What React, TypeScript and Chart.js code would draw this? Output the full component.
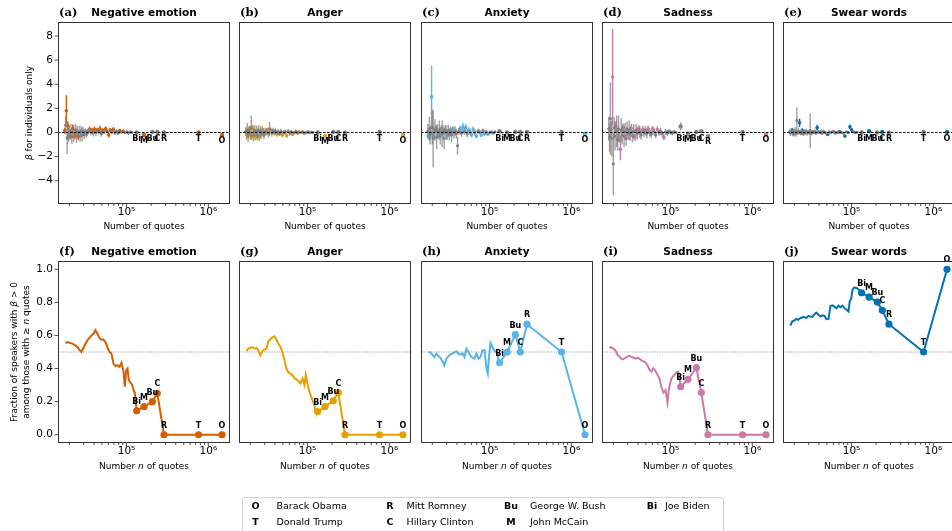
import React, { useEffect, useRef } from 'react';
import { Chart, registerables } from 'chart.js';
Chart.register(...registerables);

// ---------------- data ----------------
const topTitles = ['Negative emotion', 'Anger', 'Anxiety', 'Sadness', 'Swear words'];
const topLetters = ['(a)', '(b)', '(c)', '(d)', '(e)'];
const bottomLetters = ['(f)', '(g)', '(h)', '(i)', '(j)'];
const seriesColors = ['#d55e00', '#e69f00', '#56b4e9', '#cc79a7', '#0072b2'];

const politicianCodes = ['Bi', 'M', 'Bu', 'C', 'R', 'T', 'O'];
const politicianQuotes = [133000, 164000, 207000, 238000, 287000, 760000, 1470000];

const legendCodes = ['O', 'T', 'R', 'C', 'Bu', 'M', 'Bi'];
const legendNames = ['Barack Obama', 'Donald Trump', 'Mitt Romney', 'Hillary Clinton', 'George W. Bush', 'John McCain', 'Joe Biden'];

const xTickValues = [1e5, 1e6];
const xTickLabels = ['10⁵', '10⁶'];
const xMinorTicks = [2e4, 3e4, 4e4, 5e4, 6e4, 7e4, 8e4, 9e4, 2e5, 3e5, 4e5, 5e5, 6e5, 7e5, 8e5, 9e5];
const topYTickValues = [-4, -2, 0, 2, 4, 6, 8];
const topYTickLabels = ['−4', '−2', '0', '2', '4', '6', '8'];
const bottomYTickValues = [0, 0.2, 0.4, 0.6, 0.8, 1.0];
const bottomYTickLabels = ['0.0', '0.2', '0.4', '0.6', '0.8', '1.0'];

// top row: per-speaker regression coefficients
const speakerQuotes = [17600, 18000, 18400, 18800, 19200, 19600, 20000, 20500, 21000, 21500, 22000, 22600, 23200, 23800, 24400, 25000, 25700, 26400, 27100, 27900, 28700, 29500, 30400, 31300, 32300, 33300, 34400, 35500, 36700, 38000, 39300, 40700, 42200, 43800, 45500, 47300, 49200, 51200, 53300, 55600, 58000, 60500, 63200, 66000, 69000, 72200, 75600, 79200, 83000, 87000, 91300, 95800, 100600, 105700, 111000, 116600];

const betaNeg = [0.15, 0.6, 1.8, -0.45, 0.55, -0.2, 0.1, -0.3, 0.15, -0.35, 0.3, -0.1, -0.3, 0.2, -0.25, 0.1, -0.35, 0.05, -0.3, 0.15, -0.2, 0.1, -0.15, 0.05, -0.1, 0.0, 0.15, 0.25, 0.05, 0.2, -0.05, 0.25, 0.0, 0.2, 0.1, 0.3, -0.1, 0.15, 0.05, 0.3, 0.1, -0.2, 0.2, 0.05, 0.25, 0.0, 0.1, -0.05, 0.15, 0.05, 0.1, 0.0, 0.05, -0.05, 0.05, 0.02];
const errNeg = [0.25, 0.75, 1.3, 1.35, 0.35, 0.6, 0.5, 0.3, 0.55, 0.6, 0.35, 0.7, 0.25, 0.5, 0.6, 0.45, 0.3, 0.5, 0.45, 0.4, 0.55, 0.35, 0.4, 0.3, 0.35, 0.3, 0.25, 0.25, 0.3, 0.2, 0.3, 0.25, 0.3, 0.2, 0.25, 0.25, 0.25, 0.2, 0.2, 0.2, 0.2, 0.2, 0.15, 0.2, 0.2, 0.2, 0.15, 0.15, 0.15, 0.15, 0.12, 0.12, 0.12, 0.1, 0.1, 0.08];
const sigNeg = [0, 2, 4, 7, 10, 12, 16, 27, 29, 31, 33, 35, 37, 39, 41, 42, 44, 48, 50];

const betaAnger = [0.1, -0.15, 0.2, -0.3, 0.1, 0.25, -0.1, 0.4, -0.3, 0.3, -0.2, 0.15, -0.35, 0.05, -0.25, 0.2, -0.4, 0.1, -0.15, 0.25, 0.0, -0.2, 0.1, 0.05, 0.2, -0.1, 0.3, 0.2, -0.05, 0.15, 0.0, 0.1, -0.15, 0.05, -0.1, 0.1, -0.2, 0.0, 0.05, -0.25, 0.1, -0.05, 0.05, -0.15, 0.0, 0.1, -0.05, 0.05, 0.0, 0.05, -0.05, 0.0, 0.05, -0.02, 0.03, 0.0];
const errAnger = [0.35, 0.45, 0.6, 0.5, 0.4, 0.3, 0.5, 1.0, 0.3, 0.35, 0.55, 0.45, 0.3, 0.5, 0.4, 0.4, 0.3, 0.45, 0.4, 0.3, 0.4, 0.35, 0.3, 0.3, 0.2, 0.3, 0.6, 0.2, 0.3, 0.25, 0.25, 0.25, 0.2, 0.25, 0.2, 0.2, 0.2, 0.2, 0.2, 0.2, 0.15, 0.2, 0.15, 0.15, 0.15, 0.15, 0.15, 0.15, 0.12, 0.12, 0.12, 0.1, 0.1, 0.1, 0.1, 0.08];
const sigAnger = [1, 5, 8, 9, 12, 16, 19, 24, 27, 32, 36, 39, 43, 47];

const betaAnxiety = [0.1, -0.3, 0.3, -0.2, 0.0, 2.95, 0.4, -0.5, -0.3, 0.2, 0.3, -0.4, 0.1, -0.2, 0.2, -0.3, 0.3, -0.1, 0.1, -0.5, 0.2, 0.0, -0.3, 0.15, -0.15, 0.1, -0.2, 0.2, 0.0, 0.1, -0.1, -1.1, 0.1, 0.3, -0.05, 0.45, 0.1, 0.4, -0.1, 0.2, 0.05, -0.2, 0.25, 0.0, -0.3, 0.1, 0.05, -0.2, 0.15, -0.1, 0.05, -0.15, 0.0, 0.05, -0.05, 0.05];
const errAnxiety = [0.6, 0.3, 1.0, 0.8, 0.5, 2.6, 1.4, 2.4, 0.25, 0.9, 0.3, 1.0, 0.6, 0.3, 0.8, 0.7, 0.3, 1.1, 0.5, 0.9, 0.4, 0.6, 0.3, 0.5, 0.5, 0.4, 0.6, 0.3, 0.5, 0.4, 0.4, 0.75, 0.3, 0.25, 0.3, 0.35, 0.3, 0.3, 0.3, 0.25, 0.25, 0.2, 0.25, 0.25, 0.2, 0.2, 0.2, 0.2, 0.15, 0.2, 0.15, 0.15, 0.15, 0.12, 0.12, 0.1];
const sigAnxiety = [1, 5, 8, 10, 13, 16, 22, 27, 33, 35, 37, 39, 41, 42, 44, 47, 49, 51];

const betaSadness = [0.3, -0.4, 1.15, 0.2, -0.5, 4.6, -2.6, 0.4, -0.3, 0.5, 0.1, -0.6, 0.3, -0.4, -1.4, 0.2, -0.2, 0.4, -0.3, 0.1, -0.5, 0.3, -0.2, 0.2, -0.1, 0.35, -0.3, 0.1, -0.4, 0.2, -0.1, 0.3, 0.05, -0.2, 0.25, 0.0, 0.15, -0.1, 0.3, 0.0, -0.15, 0.3, 0.05, -0.2, 0.25, 0.0, 0.1, -0.1, -0.4, 0.05, -0.05, 0.1, 0.0, -0.05, 0.05, 0.0];
const errSadness = [1.0, 1.2, 3.0, 0.7, 1.5, 4.0, 2.6, 0.9, 1.2, 0.4, 1.3, 0.9, 1.1, 0.4, 0.9, 1.0, 0.8, 0.35, 0.9, 0.7, 0.6, 0.6, 0.4, 0.8, 0.6, 0.35, 0.5, 0.6, 0.3, 0.5, 0.5, 0.3, 0.5, 0.4, 0.3, 0.4, 0.4, 0.4, 0.25, 0.35, 0.35, 0.25, 0.3, 0.3, 0.25, 0.3, 0.3, 0.25, 0.25, 0.25, 0.25, 0.2, 0.2, 0.2, 0.15, 0.15];
const sigSadness = [3, 5, 9, 13, 14, 17, 22, 25, 28, 31, 34, 38, 41, 44, 48];

const betaSwear = [0.05, -0.05, 0.1, 0.2, 0.0, -0.1, 0.05, 0.1, -0.05, 1.0, 0.0, 0.1, 0.8, -0.05, 0.05, 0.15, -0.1, 0.05, 0.0, 0.1, -0.05, 0.05, 0.0, 0.15, -0.05, 0.05, 0.0, 0.1, -0.05, 0.4, 0.05, 0.0, 0.05, -0.05, 0.1, 0.0, -0.05, -0.17, 0.05, 0.0, 0.05, 0.1, -0.05, 0.0, 0.05, 0.05, 0.0, -0.05, -0.3, 0.05, 0.0, 0.47, 0.2, 0.05, 0.0, 0.02];
const errSwear = [0.2, 0.25, 0.2, 0.2, 0.3, 0.25, 0.2, 0.35, 0.3, 1.1, 0.2, 0.25, 0.35, 0.2, 0.25, 0.2, 0.2, 0.2, 0.25, 0.2, 0.2, 0.15, 0.2, 1.45, 0.2, 0.15, 0.15, 0.15, 0.15, 0.25, 0.15, 0.15, 0.12, 0.15, 0.12, 0.12, 0.12, 0.12, 0.12, 0.1, 0.1, 0.1, 0.1, 0.1, 0.1, 0.1, 0.1, 0.1, 0.12, 0.1, 0.1, 0.2, 0.15, 0.1, 0.08, 0.08];
const sigSwear = [3, 12, 15, 29, 37, 45, 48, 51, 52];

// named politicians (order: Bi, M, Bu, C, R, T, O)
const namedBetaNeg = [0.0, -0.2, 0.05, 0.05, 0.0, 0.0, -0.2];
const namedErrNeg = [0.08, 0.06, 0.05, 0.05, 0.05, 0.04, 0.03];
const namedSigNeg = [0, 1, 0, 0, 0, 1, 1];
const namedBetaAnger = [0.0, -0.3, 0.05, 0.05, 0.0, 0.05, -0.2];
const namedErrAnger = [0.08, 0.06, 0.05, 0.05, 0.05, 0.04, 0.03];
const namedSigAnger = [0, 1, 0, 0, 0, 0, 1];
const namedBetaAnxiety = [0.1, 0.0, 0.05, 0.05, 0.05, 0.05, -0.1];
const namedErrAnxiety = [0.1, 0.08, 0.06, 0.06, 0.06, 0.05, 0.04];
const namedSigAnxiety = [0, 0, 0, 0, 0, 0, 1];
const namedBetaSadness = [0.5, -0.1, 0.05, 0.1, -0.3, 0.05, -0.15];
const namedErrSadness = [0.35, 0.1, 0.08, 0.08, 0.1, 0.06, 0.04];
const namedSigSadness = [0, 0, 0, 0, 0, 0, 1];
const namedBetaSwear = [0.0, 0.1, 0.0, 0.05, 0.0, 0.05, 0.05];
const namedErrSwear = [0.06, 0.05, 0.05, 0.05, 0.05, 0.04, 0.03];
const namedSigSwear = [0, 1, 0, 1, 0, 0, 1];

// bottom row: fraction of speakers with beta > 0 among those with >= n quotes
const thresholdQuotes = [17900, 18900, 20000, 21200, 22400, 23700, 25100, 26500, 28100, 29700, 31500, 33300, 35200, 37200, 39400, 41700, 44100, 46700, 49400, 52300, 55300, 58500, 61900, 65500, 69300, 73300, 77600, 82100, 86900, 91900, 95300, 99000, 102800, 106700, 110800, 117200, 124100, 126500];
const fracNeg = [0.554, 0.56, 0.556, 0.552, 0.548, 0.54, 0.53, 0.515, 0.50, 0.524, 0.55, 0.57, 0.585, 0.60, 0.61, 0.632, 0.61, 0.585, 0.574, 0.575, 0.56, 0.53, 0.50, 0.49, 0.43, 0.415, 0.42, 0.41, 0.435, 0.38, 0.29, 0.39, 0.40, 0.33, 0.32, 0.30, 0.26, 0.25];
const namedFracNeg = [0.145, 0.17, 0.20, 0.25, 0, 0, 0];
const fracAnger = [0.505, 0.52, 0.525, 0.53, 0.52, 0.525, 0.51, 0.48, 0.505, 0.515, 0.52, 0.565, 0.578, 0.588, 0.595, 0.575, 0.55, 0.53, 0.50, 0.45, 0.40, 0.375, 0.37, 0.36, 0.34, 0.335, 0.325, 0.31, 0.34, 0.30, 0.36, 0.32, 0.28, 0.255, 0.23, 0.20, 0.16, 0.145];
const namedFracAnger = [0.14, 0.17, 0.205, 0.255, 0, 0, 0];
const fracAnxiety = [0.50, 0.498, 0.485, 0.47, 0.49, 0.475, 0.465, 0.445, 0.42, 0.46, 0.475, 0.485, 0.49, 0.498, 0.505, 0.49, 0.484, 0.492, 0.47, 0.52, 0.50, 0.478, 0.466, 0.46, 0.49, 0.46, 0.47, 0.51, 0.51, 0.40, 0.37, 0.48, 0.555, 0.54, 0.52, 0.505, 0.49, 0.47];
const namedFracAnxiety = [0.435, 0.50, 0.605, 0.50, 0.668, 0.50, 0];
const fracSadness = [0.53, 0.527, 0.52, 0.51, 0.485, 0.472, 0.458, 0.456, 0.465, 0.472, 0.478, 0.47, 0.465, 0.46, 0.466, 0.458, 0.45, 0.443, 0.438, 0.42, 0.393, 0.382, 0.402, 0.385, 0.363, 0.338, 0.285, 0.255, 0.27, 0.195, 0.27, 0.31, 0.34, 0.35, 0.36, 0.375, 0.38, 0.37];
const namedFracSadness = [0.29, 0.335, 0.405, 0.255, 0, 0, 0];
const fracSwear = [0.66, 0.685, 0.69, 0.70, 0.695, 0.705, 0.71, 0.712, 0.705, 0.718, 0.714, 0.712, 0.728, 0.738, 0.725, 0.715, 0.722, 0.718, 0.698, 0.70, 0.778, 0.782, 0.774, 0.764, 0.78, 0.77, 0.78, 0.765, 0.755, 0.745, 0.81, 0.82, 0.875, 0.888, 0.89, 0.885, 0.875, 0.87];
const namedFracSwear = [0.858, 0.832, 0.802, 0.752, 0.668, 0.50, 1.0];

const topBetas = [betaNeg, betaAnger, betaAnxiety, betaSadness, betaSwear];
const topErrs = [errNeg, errAnger, errAnxiety, errSadness, errSwear];
const topSigs = [sigNeg, sigAnger, sigAnxiety, sigSadness, sigSwear];
const namedBetas = [namedBetaNeg, namedBetaAnger, namedBetaAnxiety, namedBetaSadness, namedBetaSwear];
const namedErrs = [namedErrNeg, namedErrAnger, namedErrAnxiety, namedErrSadness, namedErrSwear];
const namedSigs = [namedSigNeg, namedSigAnger, namedSigAnxiety, namedSigSadness, namedSigSwear];
const fracs = [fracNeg, fracAnger, fracAnxiety, fracSadness, fracSwear];
const namedFracs = [namedFracNeg, namedFracAnger, namedFracAnxiety, namedFracSadness, namedFracSwear];

// ---------------- layout ----------------
const BOX_LEFTS = [58, 239, 421, 602, 783];
const BOX_TOPS = [22, 261];
const BOX_W = 172;
const BOX_H = 182;
const PADL = 60, PADT = 24, PADR = 12, PADB = 42;
const X_MIN = 14550, X_MAX = 1840000;
const Y_TOP = [-5.93, 9.16];
const Y_BOTTOM = [-0.05, 1.05];

const SANS = '"DejaVu Sans", sans-serif';
const SERIF = '"DejaVu Serif", serif';

function drawParts(ctx: any, parts: [string, string][], cx: number, cy: number) {
  let total = 0;
  parts.forEach(([t, f]) => { ctx.font = f; total += ctx.measureText(t).width; });
  let x = cx - total / 2;
  ctx.textAlign = 'left';
  ctx.textBaseline = 'middle';
  parts.forEach(([t, f]) => { ctx.font = f; ctx.fillText(t, x, cy); x += ctx.measureText(t).width; });
}

function buildConfig(row: number, col: number) {
  const color = seriesColors[col];
  const isTop = row === 0;
  const yVals = isTop ? topYTickValues : bottomYTickValues;
  const yLabels = isTop ? topYTickLabels : bottomYTickLabels;
  const yRange = isTop ? Y_TOP : Y_BOTTOM;
  let datasets: any[] = [];

  if (isTop) {
    const gray: any[] = [];
    const colored: any[] = [];
    const beta = topBetas[col], err = topErrs[col], sig = topSigs[col];
    speakerQuotes.forEach((x, i) => {
      (sig.includes(i) ? colored : gray).push({ x, y: beta[i], e: err[i] });
    });
    politicianQuotes.forEach((x, i) => {
      (namedSigs[col][i] ? colored : gray).push({ x, y: namedBetas[col][i], e: namedErrs[col][i], named: true });
    });
    datasets = [
      { data: gray, errColor: 'rgba(128,128,128,0.75)', backgroundColor: '#808080', borderWidth: 0,
        pointRadius: (c: any) => (c.raw && c.raw.named ? 2.2 : 1.6) },
      { data: colored, errColor: color, backgroundColor: color, borderWidth: 0,
        pointRadius: (c: any) => (c.raw && c.raw.named ? 2.2 : 1.8) },
    ];
  } else {
    const n = thresholdQuotes.length;
    const pts = thresholdQuotes.map((x, i) => ({ x, y: fracs[col][i] }))
      .concat(politicianQuotes.map((x, i) => ({ x, y: namedFracs[col][i] })));
    datasets = [{
      data: pts, showLine: true, borderColor: color, borderWidth: 2, backgroundColor: color,
      pointBackgroundColor: color, pointBorderWidth: 0,
      pointRadius: (c: any) => (c.dataIndex >= n ? 3.6 : 0),
      tension: 0,
    }];
  }

  const plugin = {
    id: 'panel' + row + col,
    beforeDatasetsDraw(chart: any) {
      if (isTop) return;
      const { ctx, chartArea: a, scales } = chart;
      const y = scales.y.getPixelForValue(0.5);
      ctx.save();
      ctx.strokeStyle = '#808080';
      ctx.lineWidth = 0.8;
      ctx.setLineDash([1.2, 1.3]);
      ctx.beginPath();
      ctx.moveTo(a.left, y);
      ctx.lineTo(a.right, y);
      ctx.stroke();
      ctx.restore();
    },
    beforeDatasetDraw(chart: any, args: any) {
      if (!isTop) return;
      const ds = chart.data.datasets[args.index];
      const ys = chart.scales.y;
      const { ctx, chartArea: a } = chart;
      ctx.save();
      ctx.beginPath();
      ctx.rect(a.left, a.top, a.width, a.height);
      ctx.clip();
      ctx.strokeStyle = ds.errColor;
      ctx.lineWidth = 1.4;
      args.meta.data.forEach((el: any, i: number) => {
        const p = ds.data[i];
        ctx.beginPath();
        ctx.moveTo(el.x, ys.getPixelForValue(p.y + p.e));
        ctx.lineTo(el.x, ys.getPixelForValue(p.y - p.e));
        ctx.stroke();
      });
      ctx.restore();
    },
    afterDatasetsDraw(chart: any) {
      const { ctx, chartArea: a, scales } = chart;
      ctx.save();
      if (isTop) {
        const y0 = scales.y.getPixelForValue(0);
        ctx.strokeStyle = '#000';
        ctx.lineWidth = 1;
        ctx.setLineDash([2.5, 1.5]);
        ctx.beginPath();
        ctx.moveTo(a.left, y0);
        ctx.lineTo(a.right, y0);
        ctx.stroke();
        ctx.setLineDash([]);
      }
      ctx.fillStyle = '#000';
      ctx.font = 'bold 8px ' + SANS;
      ctx.textAlign = 'center';
      ctx.textBaseline = 'middle';
      politicianCodes.forEach((code, i) => {
        const px = scales.x.getPixelForValue(politicianQuotes[i]);
        if (isTop) {
          const py = scales.y.getPixelForValue(Math.min(namedBetas[col][i], 0));
          ctx.fillText(code, px, py + 6);
        } else {
          const py = scales.y.getPixelForValue(namedFracs[col][i]);
          ctx.fillText(code, px, py - 9);
        }
      });
      ctx.restore();
    },
    afterDraw(chart: any) {
      const { ctx, chartArea: a, scales } = chart;
      ctx.save();
      // frame
      ctx.strokeStyle = '#333';
      ctx.lineWidth = 1;
      ctx.strokeRect(a.left + 0.5, a.top + 0.5, a.width - 1, a.height - 1);
      // tick marks
      ctx.strokeStyle = '#222';
      ctx.lineWidth = 0.8;
      xMinorTicks.forEach((v) => {
        const px = scales.x.getPixelForValue(v);
        ctx.beginPath(); ctx.moveTo(px, a.bottom); ctx.lineTo(px, a.bottom + 2); ctx.stroke();
      });
      xTickValues.forEach((v) => {
        const px = scales.x.getPixelForValue(v);
        ctx.beginPath(); ctx.moveTo(px, a.bottom); ctx.lineTo(px, a.bottom + 3.5); ctx.stroke();
      });
      if (col === 0) {
        yVals.forEach((v) => {
          const py = scales.y.getPixelForValue(v);
          ctx.beginPath(); ctx.moveTo(a.left - 3.5, py); ctx.lineTo(a.left, py); ctx.stroke();
        });
      }
      // titles
      ctx.fillStyle = '#000';
      ctx.textBaseline = 'middle';
      ctx.textAlign = 'left';
      ctx.font = 'bold 11.5px ' + SERIF;
      ctx.fillText(isTop ? topLetters[col] : bottomLetters[col], a.left + 1, a.top - 9);
      ctx.textAlign = 'center';
      ctx.font = 'bold 10.5px ' + SANS;
      ctx.fillText(topTitles[col], (a.left + a.right) / 2, a.top - 9);
      // x axis title
      const f = '9px ' + SANS;
      const fi = 'italic 9px ' + SANS;
      const cx = (a.left + a.right) / 2;
      if (isTop) {
        drawParts(ctx, [['Number of quotes', f]], cx, a.bottom + 23);
      } else {
        drawParts(ctx, [['Number ', f], ['n', fi], [' of quotes', f]], cx, a.bottom + 23.5);
      }
      // y axis title (first column)
      if (col === 0) {
        const cy = (a.top + a.bottom) / 2;
        if (isTop) {
          ctx.save();
          ctx.translate(a.left - 28, cy);
          ctx.rotate(-Math.PI / 2);
          drawParts(ctx, [['β', fi], [' for individuals only', f]], 0, 0);
          ctx.restore();
        } else {
          ctx.save();
          ctx.translate(a.left - 43, cy);
          ctx.rotate(-Math.PI / 2);
          drawParts(ctx, [['Fraction of speakers with ', f], ['β', fi], [' > 0', f]], 0, 0);
          ctx.restore();
          ctx.save();
          ctx.translate(a.left - 31.5, cy);
          ctx.rotate(-Math.PI / 2);
          drawParts(ctx, [['among those with ', f], ['≥ ', f], ['n', fi], [' quotes', f]], 0, 0);
          ctx.restore();
        }
      }
      ctx.restore();
    },
  };

  return {
    type: 'scatter',
    data: { datasets },
    options: {
      animation: false,
      responsive: false,
      devicePixelRatio: 1,
      events: [],
      layout: { padding: { left: 0, top: PADT, right: PADR, bottom: 0 } },
      plugins: { legend: { display: false }, tooltip: { enabled: false }, title: { display: false } },
      scales: {
        x: {
          type: 'logarithmic',
          bounds: 'data',
          min: X_MIN,
          max: X_MAX,
          grid: { display: false, drawTicks: false, tickLength: 0 },
          border: { display: false },
          afterBuildTicks: (s: any) => { s.ticks = xTickValues.map((v) => ({ value: v })); },
          afterFit: (s: any) => { s.height = PADB; },
          ticks: {
            autoSkip: false, maxRotation: 0, minRotation: 0, padding: 2, color: '#000',
            font: { family: SANS, size: 10.5 },
            callback: (v: any) => xTickLabels[xTickValues.indexOf(Number(v))] ?? '',
          },
        },
        y: {
          type: 'linear',
          bounds: 'data',
          min: yRange[0],
          max: yRange[1],
          grid: { display: false, drawTicks: false, tickLength: 0 },
          border: { display: false },
          afterBuildTicks: (s: any) => { s.ticks = yVals.map((v) => ({ value: v })); },
          afterFit: (s: any) => { s.width = PADL; },
          ticks: {
            display: col === 0, autoSkip: false, padding: 5, color: '#000',
            font: { family: SANS, size: 10.5 },
            callback: (v: any) => yLabels[yVals.indexOf(Number(v))] ?? '',
          },
        },
      },
    },
    plugins: [plugin],
  };
}

function Panel({ row, col }: { row: number; col: number }) {
  const ref = useRef<HTMLCanvasElement>(null);
  useEffect(() => {
    const chart = new Chart(ref.current as HTMLCanvasElement, buildConfig(row, col) as any);
    return () => chart.destroy();
  }, [row, col]);
  const left = BOX_LEFTS[col] - PADL;
  const top = BOX_TOPS[row] - PADT;
  const w = PADL + BOX_W + PADR;
  const h = PADT + BOX_H + PADB;
  return (
    <canvas ref={ref} width={w} height={h}
      style={{ position: 'absolute', left, top, width: w, height: h }} />
  );
}

const LEG_LEFT = 242, LEG_TOP = 497;
const legendCodeX = [255.5, 255.5, 390, 390, 511, 511, 652];
const legendNameX = [276.5, 276.5, 406.5, 406.5, 530, 530, 665];
const legendRowY = [506, 506 + 15.5];
const legendRowIdx = [0, 1, 0, 1, 0, 1, 0];

function Legend() {
  return (
    <div style={{ position: 'absolute', left: LEG_LEFT, top: LEG_TOP, width: 482, height: 44,
      border: '1px solid #d3d3d3', borderRadius: 3, background: '#fff', boxSizing: 'border-box' }}>
      {legendCodes.map((c, i) => (
        <React.Fragment key={c}>
          <span style={{ position: 'absolute', left: legendCodeX[i] - LEG_LEFT - 1, top: legendRowY[legendRowIdx[i]] - LEG_TOP - 1,
            transform: 'translate(-50%, -50%)', fontFamily: SANS, fontWeight: 'bold', fontSize: 9.5, lineHeight: 1, whiteSpace: 'nowrap' }}>{c}</span>
          <span style={{ position: 'absolute', left: legendNameX[i] - LEG_LEFT - 1, top: legendRowY[legendRowIdx[i]] - LEG_TOP - 1,
            transform: 'translateY(-50%)', fontFamily: SANS, fontSize: 9.5, lineHeight: 1, whiteSpace: 'nowrap' }}>{legendNames[i]}</span>
        </React.Fragment>
      ))}
    </div>
  );
}

export default function App() {
  return (
    <div style={{ position: 'fixed', left: 0, top: 0, width: 952, height: 531, overflow: 'hidden', background: '#fff' }}>
      {[0, 1].map((row) => [0, 1, 2, 3, 4].map((col) => <Panel key={row + '-' + col} row={row} col={col} />))}
      <Legend />
    </div>
  );
}
